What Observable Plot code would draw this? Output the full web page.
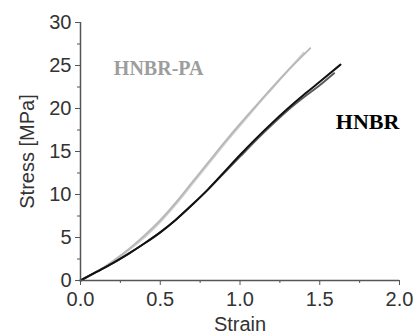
<!DOCTYPE html>
<html>
<head>
<meta charset="utf-8">
<script src="https://cdn.jsdelivr.net/npm/d3@7"></script>
<script src="https://cdn.jsdelivr.net/npm/@observablehq/plot@0.6"></script>
<style>
  html, body { margin: 0; padding: 0; background: #fff; }
  #chart { width: 415px; height: 335px; }
</style>
</head>
<body>
<div id="chart"></div>
<script>
// HNBR-PA specimens (light grey)
const paStrain1 = [0, 0.1, 0.2, 0.3, 0.4, 0.5, 0.6, 0.7, 0.8, 0.9, 1.0, 1.1, 1.2, 1.3, 1.44];
const paStress1 = [0, 1.0, 2.2, 3.6, 5.2, 7.0, 9.1, 11.4, 13.7, 16.0, 18.2, 20.3, 22.4, 24.4, 27.0];
const paStrain2 = [0, 0.1, 0.2, 0.3, 0.4, 0.5, 0.6, 0.7, 0.8, 0.9, 1.0, 1.1, 1.2, 1.3, 1.40];
const paStress2 = [0, 1.0, 2.1, 3.5, 5.0, 6.8, 8.9, 11.2, 13.5, 15.8, 18.0, 20.2, 22.3, 24.4, 26.5];
// HNBR specimens (dark)
const nbStrain1 = [0, 0.1, 0.2, 0.3, 0.4, 0.5, 0.6, 0.7, 0.8, 0.9, 1.0, 1.1, 1.2, 1.3, 1.4, 1.5, 1.63];
const nbStress1 = [0, 1.0, 2.0, 3.1, 4.3, 5.6, 7.1, 8.8, 10.6, 12.6, 14.6, 16.5, 18.3, 20.0, 21.6, 23.1, 25.1];
const nbStrain2 = [0, 0.1, 0.2, 0.3, 0.4, 0.5, 0.6, 0.7, 0.8, 0.9, 1.0, 1.1, 1.2, 1.3, 1.4, 1.5, 1.59];
const nbStress2 = [0, 1.0, 2.0, 3.1, 4.3, 5.6, 7.1, 8.8, 10.6, 12.5, 14.4, 16.3, 18.1, 19.8, 21.3, 22.7, 24.1];

const xTicks = [0, 0.5, 1.0, 1.5, 2.0];
const xMinor = [0.25, 0.75, 1.25, 1.75];
const yTicks = [0, 5, 10, 15, 20, 25, 30];
const yMinor = [2.5, 7.5, 12.5, 17.5, 22.5, 27.5];

const labelNames = ["HNBR-PA", "HNBR"];
const labelStrain = [0.49, 1.80];
const labelStress = [24.6, 18.4];

const toPts = (xs, ys) => xs.map((x, i) => ({x, y: ys[i]}));
const labels = labelNames.map((t, i) => ({t, x: labelStrain[i], y: labelStress[i]}));

const sans = "'Liberation Sans', Arial, sans-serif";
const serif = "'Liberation Serif', 'Times New Roman', serif";

const chart = Plot.plot({
  width: 415,
  height: 335,
  marginLeft: 80,
  marginRight: 16,
  marginTop: 22,
  marginBottom: 55,
  style: {fontFamily: sans, background: "#fff"},
  x: {domain: [0, 2]},
  y: {domain: [0, 30]},
  marks: [
    Plot.line(toPts(paStrain2, paStress2), {x: "x", y: "y", stroke: "#d2d2d2", strokeWidth: 2, curve: "monotone-x"}),
    Plot.line(toPts(paStrain1, paStress1), {x: "x", y: "y", stroke: "#b8b8b8", strokeWidth: 2, curve: "monotone-x"}),
    Plot.line(toPts(nbStrain2, nbStress2), {x: "x", y: "y", stroke: "#5a5a5a", strokeWidth: 2, curve: "monotone-x"}),
    Plot.line(toPts(nbStrain1, nbStress1), {x: "x", y: "y", stroke: "#111", strokeWidth: 2, curve: "monotone-x"}),
    Plot.ruleY([0], {stroke: "#555", strokeWidth: 1.5}),
    Plot.ruleX([0], {stroke: "#555", strokeWidth: 1.5}),
    Plot.axisX({ticks: xTicks, tickSize: 5, tickPadding: 6, tickFormat: d3.format(".1f"),
      fontSize: 20, label: null, stroke: "#555", color: "#333"}),
    Plot.axisX({ticks: xMinor, tickSize: 3, text: null, label: null, stroke: "#555"}),
    Plot.axisY({ticks: yTicks, tickSize: 5, tickPadding: 4,
      fontSize: 20, label: null, stroke: "#555", color: "#333"}),
    Plot.axisY({ticks: yMinor, tickSize: 3, text: null, label: null, stroke: "#555"}),
    Plot.text(["Strain"], {frameAnchor: "bottom", dy: 44, lineAnchor: "middle",
      textAnchor: "middle", fontSize: 20, fill: "#333"}),
    Plot.text(["Stress [MPa]"], {frameAnchor: "left", dx: -47, rotate: -90,
      textAnchor: "middle", lineAnchor: "bottom", fontSize: 20, fill: "#333"}),
    Plot.text(labels, {x: "x", y: "y", text: "t", fontFamily: serif, fontWeight: "bold",
      fontSize: d => d.t === "HNBR" ? 22 : 20,
      fill: d => d.t === "HNBR" ? "#000" : "#9d9d9d", lineAnchor: "middle"})
  ]
});
document.getElementById("chart").appendChild(chart);
</script>
</body>
</html>
